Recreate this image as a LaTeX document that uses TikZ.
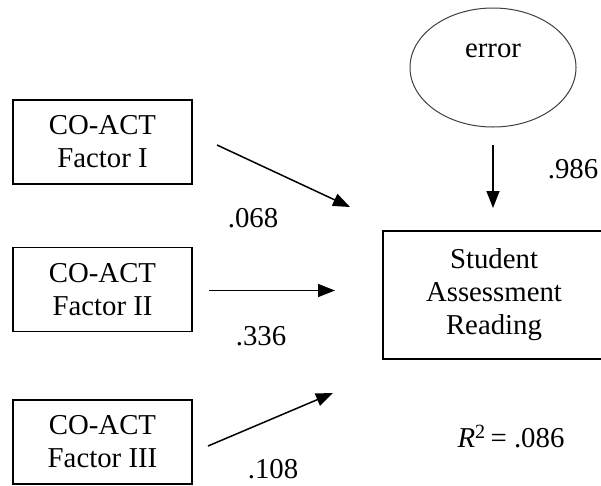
\documentclass[tikz,border=0pt]{standalone}
\usepackage{fontspec}
\setmainfont{Liberation Serif}
\usetikzlibrary{arrows.meta,shapes.geometric}
\begin{document}
\begin{tikzpicture}[x=1pt,y=-1pt,
  every node/.style={font=\fontsize{28.8}{33}\selectfont, text=black},
  facbox/.style={draw=black, line width=1.1pt, minimum width=179pt, minimum height=84pt, align=center, inner sep=0pt},
  outbox/.style={draw=black, line width=1.1pt, minimum width=222pt, minimum height=128pt, align=center, inner sep=0pt},
  errell/.style={ellipse, draw=black!75, line width=1pt, minimum width=166pt, minimum height=119pt, inner sep=0pt},
  path/.style={draw=black, line width=1.5pt, -{Triangle[length=17pt,width=13pt]}},
  coef/.style={inner sep=0pt}]
\useasboundingbox (0,0) rectangle (601,485);
\clip (0,0) rectangle (601,485);
\fill[white] (0,0) rectangle (601,485);
% nodes
\node[facbox] (f1) at (102.5,142) {CO-ACT\\Factor I};
\node[facbox] (f2) at (102.5,289.5) {CO-ACT\\Factor II};
\node[facbox] (f3) at (102.5,442) {CO-ACT\\Factor III};
\node[outbox] (sar) at (494,295) {Student\\Assessment\\Reading};
\node[errell] (err) at (493,67.5) {};
\node[coef] (errtxt) at (493,51) {error};
% arrow end points
\coordinate (a1s) at (217,145);
\coordinate (a1e) at (350,207);
\coordinate (a2s) at (209,290.5);
\coordinate (a2e) at (335,290.5);
\coordinate (a3s) at (208,446);
\coordinate (a3e) at (333,393);
\coordinate (a4s) at (493,145);
\coordinate (a4e) at (493,208);
\draw[path] (a1s) -- (a1e);
\draw[path] (a2s) -- (a2e);
\draw[path] (a3s) -- (a3e);
\draw[path] (a4s) -- (a4e);
% coefficients
\node[coef] (c1) at (253,218) {.068};
\node[coef] (c2) at (261,336) {.336};
\node[coef] (c3) at (273,469) {.108};
\node[coef] (c4) at (573,169) {.986};
\node[coef] (r2) at (511,437) {\textit{R}\textsuperscript{2}\,= .086};
\end{tikzpicture}
\end{document}
